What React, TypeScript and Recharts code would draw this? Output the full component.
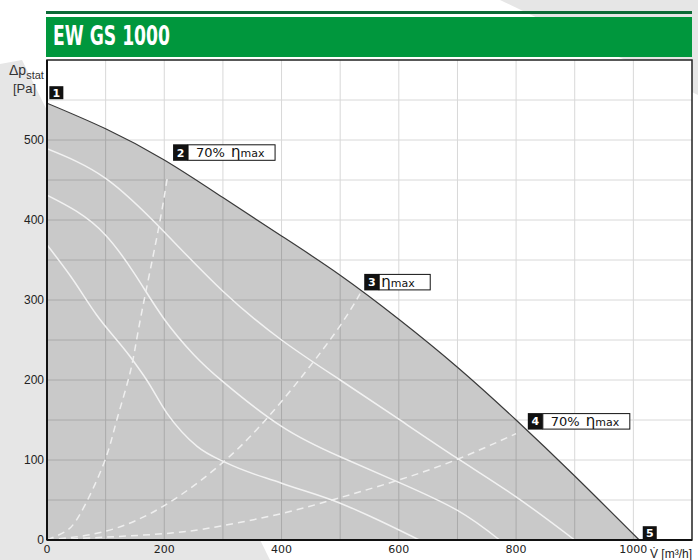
import {
  ComposedChart,
  Area,
  Line,
  XAxis,
  YAxis,
  CartesianGrid,
  ReferenceArea,
  ReferenceDot,
} from "recharts";

// fan curve (max speed), q in m3/h, p in Pa
const mainCurve = [
  { q: 0, p: 546 },
  { q: 100, p: 514 },
  { q: 200, p: 475 },
  { q: 300, p: 428 },
  { q: 400, p: 380 },
  { q: 500, p: 331 },
  { q: 600, p: 276 },
  { q: 700, p: 216 },
  { q: 800, p: 150 },
  { q: 900, p: 80 },
  { q: 1010, p: 0 },
];

// lower speed curves
const speedA = [
  { q: 0, p: 489 },
  { q: 100, p: 452 },
  { q: 200, p: 385 },
  { q: 300, p: 311 },
  { q: 400, p: 250 },
  { q: 500, p: 200 },
  { q: 600, p: 151 },
  { q: 700, p: 102 },
  { q: 800, p: 54 },
  { q: 900, p: 0 },
];
const speedB = [
  { q: 0, p: 431 },
  { q: 50, p: 411 },
  { q: 100, p: 381 },
  { q: 150, p: 332 },
  { q: 200, p: 276 },
  { q: 250, p: 232 },
  { q: 300, p: 198 },
  { q: 400, p: 142 },
  { q: 500, p: 104 },
  { q: 600, p: 72 },
  { q: 700, p: 37 },
  { q: 772, p: 0 },
];
const speedC = [
  { q: 0, p: 369 },
  { q: 40, p: 330 },
  { q: 85, p: 281 },
  { q: 142, p: 229 },
  { q: 170, p: 200 },
  { q: 205, p: 158 },
  { q: 256, p: 117 },
  { q: 307, p: 96 },
  { q: 400, p: 71 },
  { q: 500, p: 46 },
  { q: 550, p: 30 },
  { q: 635, p: 0 },
];

// system curves (dashed)
const system1 = [
  { q: 0, p: 0 },
  { q: 30, p: 10 },
  { q: 57, p: 33 },
  { q: 97, p: 96 },
  { q: 119, p: 150 },
  { q: 142, p: 210 },
  { q: 159, p: 275 },
  { q: 188, p: 381 },
  { q: 205, p: 452 },
];
const system2 = [
  { q: 0, p: 0 },
  { q: 100, p: 11 },
  { q: 200, p: 43 },
  { q: 300, p: 97 },
  { q: 375, p: 152 },
  { q: 443, p: 212 },
  { q: 500, p: 268 },
  { q: 534, p: 308 },
];
const system3 = [
  { q: 0, p: 0 },
  { q: 200, p: 8 },
  { q: 300, p: 18 },
  { q: 400, p: 33 },
  { q: 500, p: 53 },
  { q: 600, p: 75 },
  { q: 700, p: 101 },
  { q: 800, p: 133 },
];

// operating points
const markers = [
  { id: "1", q: 4, p: 551, pct: "", eta: false },
  { id: "2", q: 215, p: 474, pct: "70%", eta: true },
  { id: "3", q: 541, p: 312, pct: "", eta: true },
  { id: "4", q: 820, p: 138, pct: "70%", eta: true },
  { id: "5", q: 1016, p: 1, pct: "", eta: false },
];

const xTicks = [0, 200, 400, 600, 800, 1000];
const yTicks = [0, 100, 200, 300, 400, 500];
const xGrid = [100, 200, 300, 400, 500, 600, 700, 800, 900, 1000];
const yGrid = [50, 100, 150, 200, 250, 300, 350, 400, 450, 500, 550];

const MarkerShape = (props: any) => {
  const { cx, cy, m } = props;
  const small = !m.eta;
  const bw = small ? 14 : 15;
  const bh = small ? 13 : 16.5;
  const boxW = m.pct ? 87 : 51;
  return (
    <g>
      <rect x={cx} y={cy - bh} width={bw} height={bh} fill="#111" />
      <text
        x={cx + bw / 2}
        y={cy - bh / 2 + 4}
        textAnchor="middle"
        fill="#fff"
        fontSize={11}
        fontWeight="bold"
        fontFamily="DejaVu Sans"
      >
        {m.id}
      </text>
      {m.eta && (
        <g>
          <rect
            x={cx + bw}
            y={cy - bh + 0.5}
            width={boxW}
            height={bh - 1}
            fill="#fff"
            stroke="#111"
            strokeWidth={1}
          />
          <text
            x={cx + bw + (m.pct ? 8 : 2)}
            y={cy - bh / 2 + 4.5}
            fill="#111"
            fontFamily="DejaVu Sans"
            fontSize={13}
          >
            {m.pct ? <tspan>{m.pct}</tspan> : null}
            <tspan dx={m.pct ? 6 : 0} fontSize={15}>
              η
            </tspan>
            <tspan fontSize={11}>max</tspan>
          </text>
        </g>
      )}
    </g>
  );
};

export default function App() {
  return (
    <div style={{ position: "absolute", left: 0, top: 0, width: 698, height: 560, background: "#fff" }}>
      <svg width={698} height={560} style={{ position: "absolute", left: 0, top: 0 }}>
        <polygon points="0,64 22,60 270,560 0,560" fill="#e6e6e6" />
        <polygon points="500,0 698,0 698,95" fill="#e6e6e6" />
        <rect x={46} y={11} width={646} height={3} fill="#0b6a36" />
        <rect x={46} y={17} width={646} height={40} fill="#00973d" />
        <text
          x={53}
          y={45}
          fill="#fff"
          fontSize={27}
          fontWeight="bold"
          fontFamily="'Liberation Sans Narrow', 'DejaVu Sans Condensed', 'Liberation Sans'"
          textLength={117}
          lengthAdjust="spacingAndGlyphs"
        >
          EW GS 1000
        </text>
        <text x={9} y={75} fontFamily="Liberation Sans" fontSize={14} fill="#333">
          Δp
          <tspan fontSize={11} dy={4}>stat</tspan>
        </text>
        <text x={13} y={93} fontFamily="Liberation Sans" fontSize={13} fill="#333">
          [Pa]
        </text>
        <text x={650} y={558} fontFamily="Liberation Sans" fontSize={12} fill="#222">
          {"V\u0307 [m³/h]"}
        </text>
      </svg>
      <div style={{ position: "absolute", left: 0, top: 0 }}>
        <ComposedChart
          width={698}
          height={560}
          margin={{ top: 60, right: 6, left: 0, bottom: 0 }}
        >
          <CartesianGrid
            fill="#fff"
            fillOpacity={1}
            stroke="#d8d8d8"
            strokeWidth={1}
            verticalValues={xGrid}
            horizontalValues={yGrid}
          />
          <XAxis
            type="number"
            dataKey="q"
            domain={[0, 1100]}
            ticks={xTicks}
            allowDataOverflow
            height={20}
            tickSize={0}
            tickMargin={5}
            axisLine={{ stroke: "#111", strokeWidth: 2 }}
            tick={{ fontSize: 11, fill: "#222", fontFamily: "DejaVu Sans" }}
          />
          <YAxis
            type="number"
            dataKey="p"
            domain={[0, 600]}
            ticks={yTicks}
            allowDataOverflow
            width={47}
            tickSize={0}
            tickMargin={3}
            axisLine={{ stroke: "#111", strokeWidth: 2 }}
            tick={{ fontSize: 12, fill: "#222", fontFamily: "Liberation Sans" }}
          />
          <Area
            data={mainCurve}
            dataKey="p"
            type="natural"
            fill="#000"
            fillOpacity={0.21}
            stroke="#3a3a3a"
            strokeWidth={1.2}
            isAnimationActive={false}
          />
          <Line data={speedA} dataKey="p" type="natural" stroke="#f2f2f2" strokeWidth={1.5} dot={false} isAnimationActive={false} />
          <Line data={speedB} dataKey="p" type="natural" stroke="#f2f2f2" strokeWidth={1.5} dot={false} isAnimationActive={false} />
          <Line data={speedC} dataKey="p" type="monotone" stroke="#f2f2f2" strokeWidth={1.5} dot={false} isAnimationActive={false} />
          <Line data={system1} dataKey="p" type="natural" stroke="#efefef" strokeWidth={1.5} strokeDasharray="7 5" dot={false} isAnimationActive={false} />
          <Line data={system2} dataKey="p" type="natural" stroke="#efefef" strokeWidth={1.5} strokeDasharray="7 5" dot={false} isAnimationActive={false} />
          <Line data={system3} dataKey="p" type="natural" stroke="#efefef" strokeWidth={1.5} strokeDasharray="7 5" dot={false} isAnimationActive={false} />
          <ReferenceArea x1={0} x2={1100} y1={0} y2={600} fill="none" stroke="#222" strokeWidth={1.5} />
          {markers.map((m) => (
            <ReferenceDot
              key={m.id}
              x={m.q}
              y={m.p}
              ifOverflow="visible"
              shape={(props: any) => <MarkerShape {...props} m={m} />}
            />
          ))}
        </ComposedChart>
      </div>
    </div>
  );
}
